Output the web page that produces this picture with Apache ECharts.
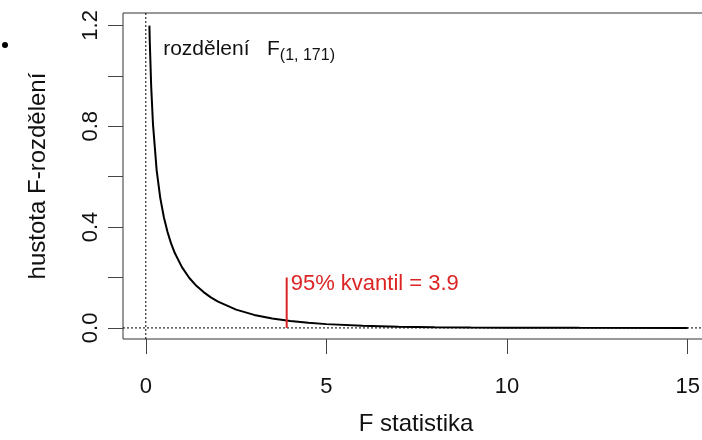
<!DOCTYPE html>
<html>
<head>
<meta charset="utf-8">
<script src="https://cdn.jsdelivr.net/npm/echarts@6/dist/echarts.min.js"></script>
<style>
  html, body { margin: 0; padding: 0; background: #fff; }
  #chart { width: 702px; height: 440px; }
</style>
</head>
<body>
<div id="chart"></div>
<script>
// Density of the F(1, 171) distribution, sampled along the F axis
const fValues = [0.1, 0.11, 0.15, 0.2, 0.3, 0.4, 0.5, 0.6, 0.7, 0.8, 1.0, 1.2, 1.4, 1.6, 1.8, 2.0,
                 2.5, 3.0, 3.5, 3.9, 4.0, 4.5, 5, 6, 7, 8, 9, 10, 12, 15];
const density = [1.199, 1.137, 0.955, 0.806, 0.626, 0.516, 0.439, 0.381, 0.335, 0.298, 0.241, 0.199,
                 0.167, 0.142, 0.121, 0.104, 0.0724, 0.0516, 0.0373, 0.0290, 0.0273, 0.0201, 0.0150,
                 0.0084, 0.0048, 0.0028, 0.0016, 0.0010, 0.0003, 0.0001];

// 95% quantile marker
const quantile = 3.9;
const quantileMarkHeight = 0.2;

// Axis ticks and labels
const xTicks = [0, 5, 10, 15];
const yTicks = [0, 0.2, 0.4, 0.6, 0.8, 1.0, 1.2];
const yLabels = [0, 0.4, 0.8, 1.2];

// Plot range (R-style 4% padding; the right side runs past the canvas)
const xMin = -0.631, xMax = 15.59;
const yMin = -0.044, yMax = 1.249;

const FONT = '"Liberation Sans", Arial, sans-serif';
const RED = '#dc2424';
const INK = '#111';

const chart = echarts.init(document.getElementById('chart'), null, { renderer: 'canvas' });

const curve = fValues.map((x, i) => [x, density[i]]);

chart.setOption({
  animation: false,
  textStyle: { fontFamily: FONT },
  grid: {
    left: 123, top: 13, width: 586, height: 326,
    outerBoundsMode: 'none', containLabel: false,
    show: true, borderColor: '#333', borderWidth: 1, backgroundColor: 'transparent'
  },
  xAxis: {
    type: 'value', min: xMin, max: xMax,
    name: 'F statistika', nameLocation: 'middle', nameGap: 73,
    nameTextStyle: { fontFamily: FONT, fontSize: 24, color: INK },
    axisLine: { show: false, onZero: false },
    axisTick: { show: true, inside: false, length: 15, customValues: xTicks,
                lineStyle: { color: '#444', width: 1 } },
    axisLabel: { show: true, customValues: xTicks, margin: 37, fontSize: 22, color: INK,
                 fontFamily: FONT, formatter: v => String(v) },
    splitLine: { show: false }
  },
  yAxis: {
    type: 'value', min: yMin, max: yMax,
    name: 'hustota F-rozdělení', nameLocation: 'middle', nameGap: 73, nameRotate: 90,
    nameTextStyle: { fontFamily: FONT, fontSize: 24, color: INK },
    axisLine: { show: false, onZero: false },
    axisTick: { show: true, inside: false, length: 15, customValues: yTicks,
                lineStyle: { color: '#444', width: 1 } },
    axisLabel: { show: true, customValues: yLabels, margin: 21, rotate: 90, fontSize: 22,
                 color: INK, fontFamily: FONT, formatter: v => v.toFixed(1) },
    splitLine: { show: false }
  },
  series: [
    {
      // reference line at F = 0
      type: 'line', silent: true, symbol: 'none', z: 1,
      data: [[0, yMin], [0, yMax]],
      lineStyle: { color: '#000', width: 1, type: [2, 2] }
    },
    {
      // reference line at density = 0
      type: 'line', silent: true, symbol: 'none', z: 1,
      data: [[xMin, 0], [xMax, 0]],
      lineStyle: { color: '#000', width: 1, type: [2, 2] }
    },
    {
      type: 'line', name: 'F(1, 171)', symbol: 'none', smooth: false, z: 3,
      data: curve,
      lineStyle: { color: '#000', width: 2 }
    },
    {
      // 95% quantile segment
      type: 'line', symbol: 'none', z: 4,
      data: [[quantile, 0], [quantile, quantileMarkHeight]],
      lineStyle: { color: RED, width: 2 }
    },
    {
      // annotation texts
      type: 'scatter', symbolSize: 0, z: 5, silent: true,
      itemStyle: { opacity: 1 },
      data: [
        {
          value: [quantile, 0.174],
          label: {
            show: true, position: 'right', distance: 4,
            formatter: '95% kvantil = ' + quantile,
            fontSize: 22, color: RED, fontFamily: FONT
          }
        },
        {
          value: [0.48, 1.105],
          label: {
            show: true, position: 'right', distance: 0,
            formatter: '{m|rozdělení   F}{s|(1, 171)}',
            rich: {
              m: { fontSize: 21, color: INK, fontFamily: FONT },
              s: { fontSize: 16, color: INK, fontFamily: FONT, padding: [12, 0, 0, 0] }
            }
          }
        }
      ]
    }
  ],
  graphic: [
    { type: 'circle', shape: { cx: 5, cy: 45, r: 3 }, style: { fill: '#000' } }
  ]
});
</script>
</body>
</html>
